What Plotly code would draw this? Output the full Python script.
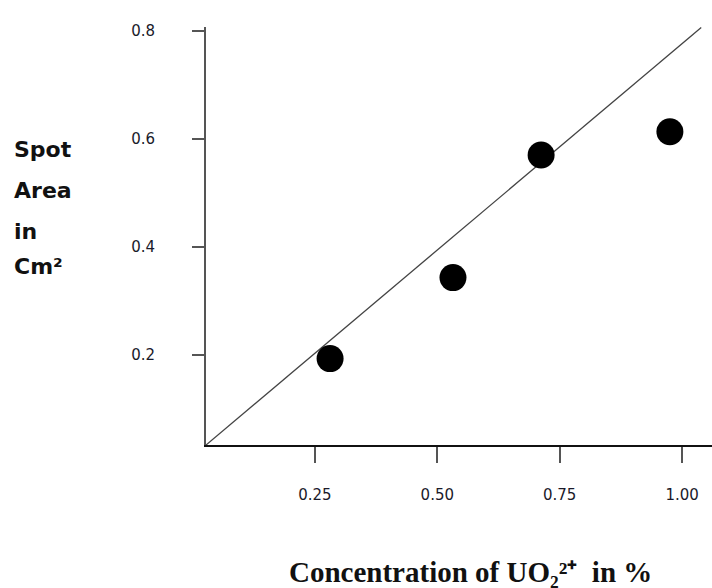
import plotly.graph_objects as go

# Data
conc = [0.281, 0.532, 0.712, 0.975]          # Concentration of UO2(2+) in %
area = [0.193, 0.343, 0.570, 0.613]          # Spot area in cm^2
fit_x = [0.0276, 1.039]                       # straight calibration line ends
fit_y = [0.033, 0.806]

x_ticks = [0.25, 0.50, 0.75, 1.00]
x_tick_text = ["0.25", "0.50", "0.75", "1.00"]
y_ticks = [0.2, 0.4, 0.6, 0.8]
y_tick_text = ["0.2", "0.4", "0.6", "0.8"]

ylabel_lines = ["Spot", "Area", "in", "Cm²"]
xlabel = "Concentration of UO₂²⁺  in %"

fig = go.Figure()
fig.add_trace(go.Scatter(
    x=fit_x, y=fit_y, mode="lines",
    line=dict(color="#444444", width=1.3),
    hoverinfo="skip", showlegend=False, cliponaxis=False))
fig.add_trace(go.Scatter(
    x=conc, y=area, mode="markers",
    marker=dict(color="black", size=27, line=dict(width=0)),
    showlegend=False, cliponaxis=False))

tick_font = dict(family="DejaVu Sans", size=15, color="#1a1a2a")

fig.update_layout(
    width=712, height=588,
    margin=dict(l=206, r=0, t=27, b=143),
    paper_bgcolor="white", plot_bgcolor="white",
    xaxis=dict(range=[0.0276, 1.061], showgrid=False, zeroline=False,
               showline=True, linecolor="#111111", linewidth=1.6,
               ticks="outside", ticklen=16, tickwidth=2, tickcolor="#555555",
               tickvals=x_ticks, ticktext=x_tick_text, tickfont=tick_font,
               ticklabelstandoff=19),
    yaxis=dict(range=[0.033, 0.807], showgrid=False, zeroline=False,
               showline=True, linecolor="#555555", linewidth=2,
               ticks="outside", ticklen=12, tickwidth=2, tickcolor="#555555",
               tickvals=y_ticks, ticktext=y_tick_text, tickfont=tick_font,
               ticklabelstandoff=34),
)

ylab_y = [0.707, 0.610, 0.510, 0.426]
for txt, yy in zip(ylabel_lines, ylab_y):
    fig.add_annotation(text="<b>" + txt + "</b>", xref="paper", yref="paper",
                       x=-0.383, y=yy, xanchor="left", yanchor="middle",
                       showarrow=False,
                       font=dict(family="DejaVu Sans", size=22, color="#111111"))

fig.add_annotation(text="<b>" + xlabel + "</b>", xref="paper", yref="paper",
                   x=0.522, y=-0.305, xanchor="center", yanchor="middle",
                   showarrow=False,
                   font=dict(family="Liberation Serif", size=29, color="#111111"))

fig.write_html("out.html")
